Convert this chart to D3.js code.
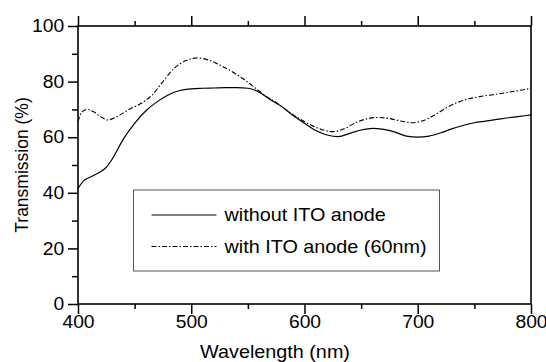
<!DOCTYPE html>
<html>
<head>
<meta charset="utf-8">
<script src="https://cdn.jsdelivr.net/npm/d3@7"></script>
<style>
  body { margin: 0; background: #fff; }
  text { font-family: "Liberation Sans", Arial, sans-serif; fill: #000; }
</style>
</head>
<body>
<div id="chart"></div>
<script>
'use strict';

// data
var wlWithout = [400, 405, 410, 415, 420, 425, 430, 440, 450, 460, 470, 480, 490, 500, 510, 520, 530, 540, 550, 560,
                 570, 580, 590, 600, 610, 620, 630, 640, 650, 660, 670, 680, 690, 700, 710, 720, 730, 740, 750, 760,
                 770, 780, 790, 800];
var tWithout  = [41.6, 44.3, 45.5, 46.5, 47.6, 49.2, 52, 59.3, 65, 69.5, 72.8, 75.3, 76.8, 77.4, 77.6, 77.7, 77.8, 77.8, 77.6, 76.2,
                 73.5, 71, 67.8, 65, 62.4, 60.8, 60.2, 61.4, 62.6, 63.2, 62.8, 61.8, 60.4, 60, 60.4, 61.5, 63, 64.2, 65.2, 65.8,
                 66.4, 67, 67.5, 68];
var wlWith = [400, 403, 408, 413, 420, 426, 435, 445, 455, 465, 475, 485, 495, 505, 515, 525, 535, 545, 555, 565,
              575, 585, 595, 605, 615, 625, 635, 645, 655, 665, 675, 685, 695, 705, 715, 725, 735, 745, 755, 765,
              775, 785, 795, 800];
var tWith  = [65.6, 68.8, 70, 69.3, 67.4, 66.2, 67.5, 70, 72, 75, 80, 84.8, 87.5, 88.5, 87.8, 86, 83.8, 81.2, 78.2, 75,
              72.5, 69.5, 66.8, 64.5, 62.8, 62, 63, 65.2, 66.6, 67.1, 66.7, 65.8, 65.2, 66, 68, 70.5, 72.5, 73.8, 74.6, 75.2,
              75.8, 76.5, 77.2, 77.6];
var xTicks = [400, 500, 600, 700, 800];
var xMinor = [450, 550, 650, 750];
var yTicks = [0, 20, 40, 60, 80, 100];
var yMinor = [10, 30, 50, 70, 90];
var seriesNames = ['without ITO anode', 'with ITO anode (60nm)'];

var chart = {};
chart.w = 546;
chart.h = 362;
chart.margins = {top: 26, bottom: 58, left: 78, right: 15};
chart.cw = chart.w - chart.margins.left - chart.margins.right;
chart.ch = chart.h - chart.margins.top - chart.margins.bottom;
chart.fontSize = 18;
chart.stretch = 1.1;   // the source text is a little wider than Arial
chart.dash = '5,2,1.5,2';

var svg = d3.select('#chart').append('svg')
    .attr('width', chart.w)
    .attr('height', chart.h);

var g = svg.append('g')
    .attr('transform', 'translate(' + chart.margins.left + ',' + chart.margins.top + ')');

var xScale = d3.scaleLinear().domain([400, 800]).range([0, chart.cw]);
var yScale = d3.scaleLinear().domain([0, 100]).range([chart.ch, 0]);

function styleAxis(sel) {
    sel.selectAll('.domain').remove();
    sel.selectAll('line').attr('stroke', '#000').attr('stroke-width', 1.5);
    sel.selectAll('text')
        .style('font-size', chart.fontSize + 'px')
        .attr('fill', '#000')
        .attr('transform', 'scale(1.07,1)');
}

// bottom
g.append('g').attr('transform', 'translate(0,' + chart.ch + ')')
    .call(d3.axisBottom(xScale).tickValues(xTicks).tickSize(10).tickPadding(1).tickFormat(d3.format('d')))
    .call(styleAxis);
g.append('g').attr('transform', 'translate(0,' + chart.ch + ')')
    .call(d3.axisBottom(xScale).tickValues(xMinor).tickSize(5).tickFormat(''))
    .call(styleAxis);
// top
g.append('g')
    .call(d3.axisTop(xScale).tickValues(xTicks).tickSize(10).tickFormat(''))
    .call(styleAxis);
g.append('g')
    .call(d3.axisTop(xScale).tickValues(xMinor).tickSize(5).tickFormat(''))
    .call(styleAxis);
// left
g.append('g')
    .call(d3.axisLeft(yScale).tickValues(yTicks).tickSize(10).tickPadding(3).tickFormat(d3.format('d')))
    .call(styleAxis);
g.append('g')
    .call(d3.axisLeft(yScale).tickValues(yMinor).tickSize(6).tickFormat(''))
    .call(styleAxis);

// frame
g.append('rect')
    .attr('x', 0).attr('y', 0)
    .attr('width', chart.cw).attr('height', chart.ch)
    .attr('fill', 'none').attr('stroke', '#000').attr('stroke-width', 1.6);

// curves
var line = d3.line().curve(d3.curveMonotoneX);
var dataWithout = wlWithout.map(function (d, i) { return [xScale(d), yScale(tWithout[i])]; });
var dataWith = wlWith.map(function (d, i) { return [xScale(d), yScale(tWith[i])]; });

g.append('path').attr('d', line(dataWith))
    .attr('fill', 'none').attr('stroke', '#000').attr('stroke-width', 1.1)
    .attr('stroke-dasharray', chart.dash);
g.append('path').attr('d', line(dataWithout))
    .attr('fill', 'none').attr('stroke', '#000').attr('stroke-width', 1.2);

// legend
var leg = svg.append('g').attr('transform', 'translate(133.5,190)');
leg.append('rect')
    .attr('width', 306).attr('height', 81)
    .attr('fill', '#fff').attr('stroke', '#555').attr('stroke-width', 1);
var legItems = [{name: seriesNames[0], dash: null, y: 25}, {name: seriesNames[1], dash: chart.dash, y: 56.5}];
legItems.forEach(function (d) {
    leg.append('line')
        .attr('x1', 18).attr('x2', 83).attr('y1', d.y).attr('y2', d.y)
        .attr('stroke', '#000').attr('stroke-width', 1.2)
        .attr('stroke-dasharray', d.dash);
    leg.append('text')
        .attr('transform', 'translate(91,' + d.y + ') scale(' + chart.stretch + ',1)')
        .attr('dy', '0.35em')
        .style('font-size', chart.fontSize + 'px')
        .text(d.name);
});

// axis titles
svg.append('text')
    .attr('transform', 'translate(275,358) scale(' + chart.stretch + ',1)')
    .attr('text-anchor', 'middle')
    .style('font-size', chart.fontSize + 'px')
    .text('Wavelength (nm)');
svg.append('text')
    .attr('transform', 'translate(28,165) rotate(-90)')
    .attr('text-anchor', 'middle')
    .style('font-size', '17.5px')
    .text('Transmission (%)');
</script>
</body>
</html>
